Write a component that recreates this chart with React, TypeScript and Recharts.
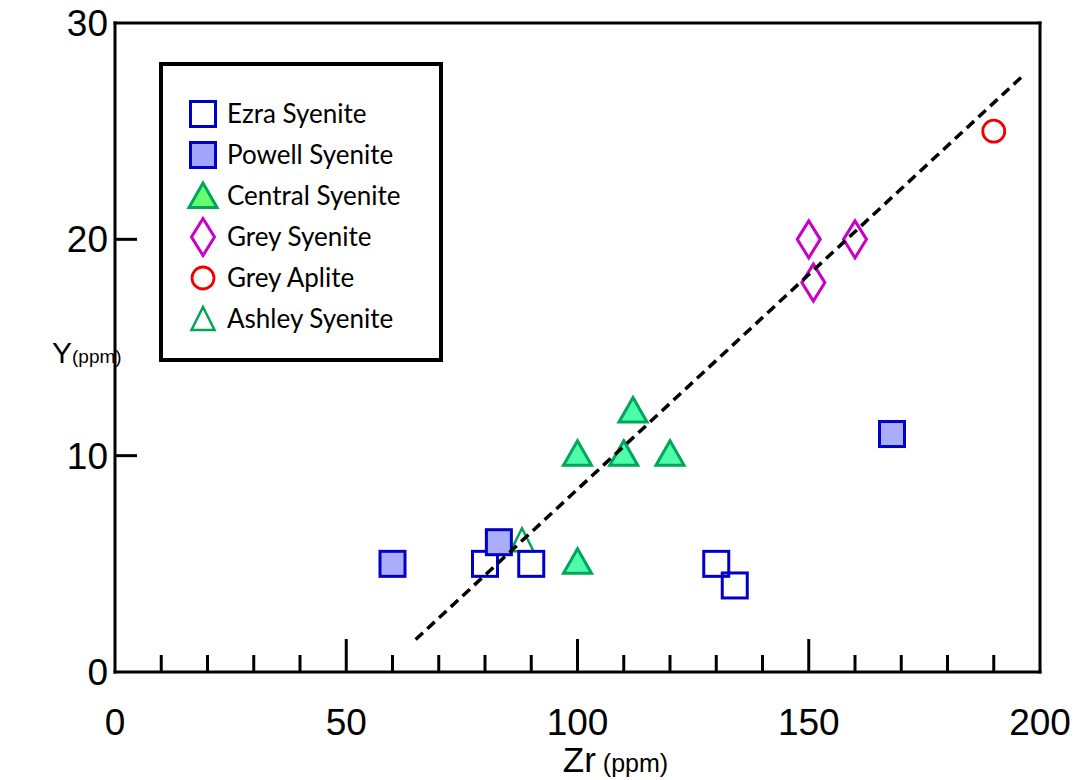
import { ScatterChart, Scatter, XAxis, YAxis, Legend } from 'recharts';

// ── Data ──────────────────────────────────────────────────────────────────────

interface Pt {
  x: number;
  y: number;
}

const ezraSyenite: Pt[] = [
  { x: 80, y: 5 },
  { x: 90, y: 5 },
  { x: 130, y: 5 },
  { x: 134, y: 4 },
];
const ashleySyenite: Pt[] = [{ x: 88, y: 6 }];
const powellSyenite: Pt[] = [
  { x: 60, y: 5 },
  { x: 83, y: 6 },
  { x: 168, y: 11 },
];
const centralSyenite: Pt[] = [
  { x: 100, y: 10 },
  { x: 110, y: 10 },
  { x: 120, y: 10 },
  { x: 112, y: 12 },
  { x: 100, y: 5 },
];
const greySyenite: Pt[] = [
  { x: 150, y: 20 },
  { x: 160, y: 20 },
  { x: 151, y: 18 },
];
const greyAplite: Pt[] = [{ x: 190, y: 25 }];
const trendLine: Pt[] = [
  { x: 65, y: 1.5 },
  { x: 196, y: 27.5 },
];

const xTicks = [0, 10, 20, 30, 40, 50, 60, 70, 80, 90, 100, 110, 120, 130, 140, 150, 160, 170, 180, 190, 200];
const yTicks = [0, 10, 20, 30];

// ── Styles ────────────────────────────────────────────────────────────────────

const AXIS_FONT = '"Liberation Sans", Arial, sans-serif';
const NARROW_FONT = '"Liberation Sans Narrow", "Liberation Sans", Arial, sans-serif';
const LEGEND_FONT = 'Lato, "Open Sans", sans-serif';
const AXIS_LINE = { stroke: '#000', strokeWidth: 3, strokeLinecap: 'square' as const };

type Kind = 'square' | 'triangle' | 'smallTriangle' | 'diamond' | 'circle';

interface SeriesConfig {
  name: string;
  data: Pt[];
  kind: Kind;
  fill: string;
  stroke: string;
  legendFill?: string;
}

const SERIES: SeriesConfig[] = [
  { name: 'Ezra Syenite', data: ezraSyenite, kind: 'square', fill: 'none', stroke: '#0000C8' },
  { name: 'Powell Syenite', data: powellSyenite, kind: 'square', fill: '#AAAEFA', stroke: '#0000C8', legendFill: '#A0A4FA' },
  { name: 'Central Syenite', data: centralSyenite, kind: 'triangle', fill: '#4DFDA9', stroke: '#00A65A', legendFill: '#66FF70' },
  { name: 'Grey Syenite', data: greySyenite, kind: 'diamond', fill: 'none', stroke: '#C800C8' },
  { name: 'Grey Aplite', data: greyAplite, kind: 'circle', fill: 'none', stroke: '#F00000' },
  { name: 'Ashley Syenite', data: ashleySyenite, kind: 'smallTriangle', fill: 'none', stroke: '#00A650' },
];

// draw order (later on top) differs from legend order
const DRAW_ORDER = ['Ashley Syenite', 'Ezra Syenite', 'Powell Syenite', 'Central Syenite', 'Grey Syenite', 'Grey Aplite'];

// ── Marker shapes ─────────────────────────────────────────────────────────────

function Marker({ kind, cx, cy, fill, stroke }: { kind: Kind; cx: number; cy: number; fill: string; stroke: string }) {
  if (kind === 'square') {
    return <rect x={cx - 12.5} y={cy - 12.5} width={25} height={25} fill={fill === 'none' ? '#fff' : fill} fillOpacity={fill === 'none' ? 0 : 1} stroke={stroke} strokeWidth={3} />;
  }
  if (kind === 'triangle') {
    return (
      <path
        d={`M${cx},${cy - 15}L${cx + 14},${cy + 9.5}L${cx - 14},${cy + 9.5}Z`}
        fill={fill}
        stroke={stroke}
        strokeWidth={3}
      />
    );
  }
  if (kind === 'smallTriangle') {
    return (
      <path
        d={`M${cx},${cy - 14}L${cx + 11.5},${cy + 9}L${cx - 11.5},${cy + 9}Z`}
        fill="none"
        stroke={stroke}
        strokeWidth={2.5}
      />
    );
  }
  if (kind === 'diamond') {
    return (
      <path
        d={`M${cx},${cy - 18.5}L${cx + 11.5},${cy}L${cx},${cy + 18.5}L${cx - 11.5},${cy}Z`}
        fill="none"
        stroke={stroke}
        strokeWidth={3}
      />
    );
  }
  return <circle cx={cx} cy={cy} r={11} fill="none" stroke={stroke} strokeWidth={2.8} />;
}

// ── Axis ticks ────────────────────────────────────────────────────────────────

function BottomTick(props: any) {
  const { x, y, payload } = props;
  const v = payload.value as number;
  const major = v % 50 === 0;
  const edge = v === 0 || v === 200;
  return (
    <g>
      {!edge && <line x1={x} x2={x} y1={y} y2={y - (major ? 33 : 17)} stroke="#000" strokeWidth={3} />}
      {major && (
        <text x={x} y={y + 63} textAnchor="middle" fontFamily={AXIS_FONT} fontSize={37} fill="#000">
          {v}
        </text>
      )}
    </g>
  );
}

function LeftTick(props: any) {
  const { x, y, payload } = props;
  const v = payload.value as number;
  const inner = v !== 0 && v !== 30;
  return (
    <g>
      {inner && <line x1={x} x2={x + 22} y1={y} y2={y} stroke="#000" strokeWidth={3} />}
      <text x={x - 7} y={y + 13} textAnchor="end" fontFamily={AXIS_FONT} fontSize={37} fill="#000">
        {v}
      </text>
    </g>
  );
}

function RightTick(props: any) {
  const { x, y, payload } = props;
  const v = payload.value as number;
  if (v === 0 || v === 30) return <g />;
  return <line x1={x} x2={x - 22} y1={y} y2={y} stroke="#000" strokeWidth={3} />;
}

// ── Axis titles ───────────────────────────────────────────────────────────────

function renderXTitle(props: any) {
  const vb = props.viewBox ?? { x: 115, y: 672, width: 925, height: 108 };
  return (
    <text x={vb.x + vb.width / 2 + 38} y={vb.y + 100} textAnchor="middle" fontFamily={AXIS_FONT} fill="#000">
      <tspan fontSize={35}>Zr</tspan>
      <tspan fontSize={25}> (ppm)</tspan>
    </text>
  );
}

function renderYTitle(props: any) {
  const vb = props.viewBox ?? { x: 0, y: 23, width: 115, height: 649 };
  return (
    <text x={52} y={vb.y + vb.height / 2 + 15} textAnchor="start" fill="#000">
      <tspan fontSize={30} fontFamily={AXIS_FONT}>Y</tspan>
      <tspan fontSize={19} fontFamily={NARROW_FONT}>(ppm)</tspan>
    </text>
  );
}

// ── Legend ────────────────────────────────────────────────────────────────────

function BoxLegend() {
  return (
    <div
      style={{
        width: 284,
        height: 300,
        boxSizing: 'border-box',
        border: '4px solid #000',
        background: '#fff',
        paddingTop: 27,
        fontFamily: LEGEND_FONT,
      }}
    >
      {SERIES.map((s) => (
        <div key={s.name} style={{ display: 'flex', alignItems: 'center', height: 41 }}>
          <svg width={32} height={40} style={{ marginLeft: 24, overflow: 'visible' }}>
            <Marker kind={s.kind} cx={16} cy={s.kind === 'triangle' || s.kind === 'smallTriangle' ? 22 : 20} fill={s.legendFill ?? s.fill} stroke={s.stroke} />
          </svg>
          <span style={{ marginLeft: 8, fontSize: 26, color: '#000', lineHeight: '41px' }}>{s.name}</span>
        </div>
      ))}
    </div>
  );
}

// ── Chart ─────────────────────────────────────────────────────────────────────

export default function App() {
  const ordered = DRAW_ORDER.map((n) => SERIES.find((s) => s.name === n)!);
  return (
    <div style={{ position: 'fixed', left: 0, top: 0, width: 1076, height: 780, background: '#fff' }}>
      <ScatterChart width={1076} height={780} margin={{ top: 0, right: 0, bottom: 0, left: 0 }}>
        <XAxis
          xAxisId="b"
          type="number"
          dataKey="x"
          domain={[0, 200]}
          ticks={xTicks}
          interval={0}
          height={108}
          tickSize={0}
          tickMargin={0}
          tickLine={false}
          tick={(p: any) => <BottomTick {...p} />}
          axisLine={AXIS_LINE}
          allowDataOverflow
          label={renderXTitle}
        />
        <XAxis
          xAxisId="t"
          orientation="top"
          type="number"
          dataKey="x"
          domain={[0, 200]}
          height={23}
          tick={false}
          tickLine={false}
          axisLine={AXIS_LINE}
        />
        <YAxis
          yAxisId="l"
          type="number"
          dataKey="y"
          domain={[0, 30]}
          ticks={yTicks}
          interval={0}
          width={115}
          tickSize={0}
          tickMargin={0}
          tickLine={false}
          tick={(p: any) => <LeftTick {...p} />}
          axisLine={AXIS_LINE}
          allowDataOverflow
          label={renderYTitle}
        />
        <YAxis
          yAxisId="r"
          orientation="right"
          type="number"
          dataKey="y"
          domain={[0, 30]}
          ticks={yTicks}
          interval={0}
          width={36}
          tickSize={0}
          tickMargin={0}
          tickLine={false}
          tick={(p: any) => <RightTick {...p} />}
          axisLine={AXIS_LINE}
        />
        <Legend
          layout="vertical"
          align="center"
          verticalAlign="middle"
          content={() => <BoxLegend />}
          wrapperStyle={{ left: 159, top: 62, width: 284, height: 300 }}
        />
        {ordered.map((s) => (
          <Scatter
            key={s.name}
            name={s.name}
            data={s.data}
            xAxisId="b"
            yAxisId="l"
            isAnimationActive={false}
            shape={(p: any) => <Marker kind={s.kind} cx={p.cx} cy={p.cy} fill={s.fill} stroke={s.stroke} />}
          />
        ))}
        <Scatter
          name="trend"
          data={trendLine}
          xAxisId="b"
          yAxisId="l"
          legendType="none"
          isAnimationActive={false}
          line={{ stroke: '#000', strokeWidth: 3.5, strokeDasharray: '10 6' }}
          shape={() => <g />}
        />
      </ScatterChart>
    </div>
  );
}
